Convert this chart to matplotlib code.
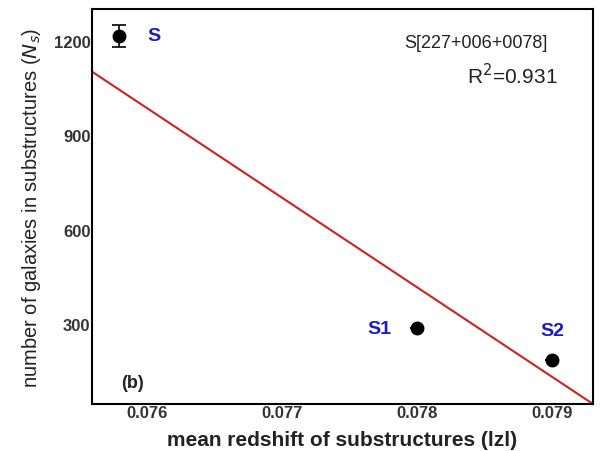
import matplotlib.pyplot as plt

plt.rcParams['font.family'] = ['Liberation Sans', 'DejaVu Sans']

# substructures: mean redshift, number of galaxies
names = ['S', 'S1', 'S2']
z_mean = [0.07579, 0.0780, 0.0790]
n_gal = [1216, 287, 186]
n_err = [35, 0, 0]

# fitted line as drawn (end points)
fit_z = [0.07559, 0.0793]
fit_n = [1102, 46]

fig = plt.figure(figsize=(6.01, 4.52), dpi=100)
ax = fig.add_axes([92 / 601, 47 / 452, 501 / 601, 395 / 452])

ax.plot(fit_z, fit_n, color='#d42020', lw=1.5, zorder=2)
ax.errorbar(z_mean, n_gal, yerr=n_err, fmt='o', color='black', ms=9,
            capsize=5, elinewidth=1.2, capthick=1.2, zorder=3)

# point labels
blue = '#1a1acc'
ax.text(0.07600, 1216, 'S', color=blue, fontsize=14, fontweight='bold', va='center')
ax.text(0.07763, 287, 'S1', color=blue, fontsize=14, fontweight='bold', va='center')
ax.text(0.0790, 280, 'S2', color=blue, fontsize=14, fontweight='bold', va='center', ha='center')

ax.text(0.766, 0.914, 'S[227+006+0078]', transform=ax.transAxes, fontsize=13,
        ha='center', va='center', color='#222222')
ax.text(0.93, 0.835, r'R$^2$=0.931', transform=ax.transAxes, fontsize=15,
        ha='right', va='center', color='#222222')
ax.text(0.058, 0.055, '(b)', transform=ax.transAxes, fontsize=13, fontweight='bold',
        ha='left', va='center', color='#222222')

ax.set_xlim(0.07559, 0.0793)
ax.set_ylim(46, 1301)
ax.set_xticks([0.076, 0.077, 0.078, 0.079])
ax.set_xticklabels(['0.076', '0.077', '0.078', '0.079'])
ax.set_yticks([300, 600, 900, 1200])
ax.tick_params(length=0, labelsize=12, pad=1)
for lab in ax.get_xticklabels() + ax.get_yticklabels():
    lab.set_fontweight('bold')
    lab.set_color('#333333')

for sp in ax.spines.values():
    sp.set_linewidth(1.5)

ax.set_xlabel('mean redshift of substructures (lzl)', fontsize=15, fontweight='bold',
              labelpad=7, color='#222222')
ax.set_ylabel(r'number of galaxies in substructures ($N_s$)', fontsize=14.5,
              labelpad=8, color='#222222')

fig.savefig('out.png', dpi=100)
